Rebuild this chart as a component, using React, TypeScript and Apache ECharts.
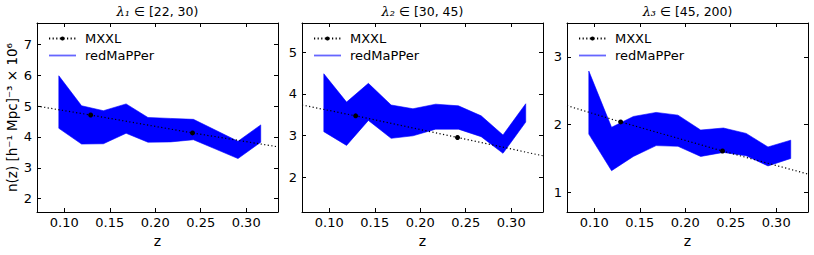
import React, { useEffect, useRef } from 'react';
import * as echarts from 'echarts';

// redshift bin centres of the redMaPPer band
const zBins = [0.094, 0.119, 0.143, 0.168, 0.192, 0.217, 0.242, 0.267, 0.291, 0.316];

// redMaPPer band (lower / upper) per richness bin
const lower1 = [4.28, 3.77, 3.78, 4.12, 3.83, 3.84, 3.91, 3.6, 3.3, 3.83];
const upper1 = [5.98, 5.01, 4.85, 5.07, 4.63, 4.6, 4.57, 4.21, 3.86, 4.39];
const lower2 = [3.09, 2.76, 3.36, 2.93, 2.99, 3.15, 3.15, 2.97, 2.57, 3.32];
const upper2 = [4.48, 3.8, 4.25, 3.73, 3.64, 3.75, 3.71, 3.47, 3.01, 3.76];
const lower3 = [1.86, 1.32, 1.53, 1.69, 1.68, 1.53, 1.59, 1.54, 1.39, 1.5];
const upper3 = [2.79, 1.96, 2.12, 2.18, 2.14, 1.92, 1.95, 1.87, 1.67, 1.77];

// MXXL dotted trend (ends at the axis edges, markers at the middle two points)
const mxxlZ = [0.07, 0.129, 0.241, 0.335];
const mxxl1 = [5.0, 4.71, 4.13, 3.68];
const mxxl2 = [3.73, 3.47, 2.95, 2.51];
const mxxl3 = [2.28, 2.04, 1.61, 1.27];

const panelTitles = ['{l|λ₁} ∈ [22, 30)', '{l|λ₂} ∈ [30, 45)', '{l|λ₃} ∈ [45, 200)'];
const xTicks = [0.1, 0.15, 0.2, 0.25, 0.3];
const xLimits = [0.07, 0.335];
const yTicks1 = [2, 3, 4, 5, 6, 7];
const yTicks2 = [2, 3, 4, 5];
const yTicks3 = [1, 2, 3];
const yLimits1 = [1.57, 7.69];
const yLimits2 = [1.16, 5.7];
const yLimits3 = [0.71, 3.5];

const lowers = [lower1, lower2, lower3];
const uppers = [upper1, upper2, upper3];
const mxxls = [mxxl1, mxxl2, mxxl3];
const yTicksAll = [yTicks1, yTicks2, yTicks3];
const yLimitsAll = [yLimits1, yLimits2, yLimits3];

const FONT = 'DejaVu Sans';
const gridLefts = [37, 302, 567];
const gridTop = 23;
const gridW = 241;
const gridH = 189;

export default function App() {
  const ref = useRef<HTMLDivElement>(null);
  useEffect(() => {
    if (!ref.current) return;
    const chart = echarts.init(ref.current, undefined, { renderer: 'svg' });

    const grid: any[] = [];
    const xAxis: any[] = [];
    const yAxis: any[] = [];
    const series: any[] = [];
    const legend: any[] = [];
    const title: any[] = [];

    const tickLine = { color: '#000', width: 1 };

    for (let i = 0; i < 3; i++) {
      grid.push({ left: gridLefts[i], top: gridTop, width: gridW, height: gridH, containLabel: false });
      title.push({
        text: panelTitles[i],
        left: gridLefts[i] + gridW / 2,
        textAlign: 'center',
        top: 5,
        padding: 0,
        textStyle: {
          fontFamily: FONT,
          fontSize: 12.5,
          fontWeight: 'normal',
          color: '#000',
          rich: { l: { fontFamily: 'DejaVu Serif', fontStyle: 'italic', fontSize: 13, color: '#000' } },
        },
      });
    }
    // bottom x axes
    for (let i = 0; i < 3; i++) {
      xAxis.push({
        type: 'value', gridIndex: i, position: 'bottom', min: xLimits[0], max: xLimits[1],
        axisLine: { show: true, onZero: false, lineStyle: tickLine },
        axisTick: { show: true, inside: true, length: 4, customValues: xTicks, lineStyle: tickLine },
        axisLabel: { customValues: xTicks, formatter: (v: number) => v.toFixed(2), fontSize: 13, color: '#000', fontFamily: FONT, margin: 4 },
        splitLine: { show: false },
        name: 'z', nameLocation: 'middle', nameGap: 21,
        nameTextStyle: { fontSize: 14, color: '#000', fontFamily: FONT },
      });
    }
    // top x axes (ticks only)
    for (let i = 0; i < 3; i++) {
      xAxis.push({
        type: 'value', gridIndex: i, position: 'top', min: xLimits[0], max: xLimits[1],
        axisLine: { show: true, onZero: false, lineStyle: tickLine },
        axisTick: { show: true, inside: true, length: 4, customValues: xTicks, lineStyle: tickLine },
        axisLabel: { show: false },
        splitLine: { show: false },
      });
    }
    // left y axes
    for (let i = 0; i < 3; i++) {
      yAxis.push({
        type: 'value', gridIndex: i, position: 'left', min: yLimitsAll[i][0], max: yLimitsAll[i][1],
        axisLine: { show: true, onZero: false, lineStyle: tickLine },
        axisTick: { show: true, inside: true, length: 4, customValues: yTicksAll[i], lineStyle: tickLine },
        axisLabel: { customValues: yTicksAll[i], formatter: (v: number) => String(v), fontSize: 13, color: '#000', fontFamily: FONT, margin: 5 },
        splitLine: { show: false },
        ...(i === 0
          ? {
              name: 'n(z) [h⁻¹ Mpc]⁻³ × 10⁶',
              nameLocation: 'middle',
              nameGap: 18,
              nameRotate: 90,
              nameTextStyle: { fontSize: 13.5, color: '#000', fontFamily: FONT },
            }
          : {}),
      });
    }
    // right y axes (ticks only)
    for (let i = 0; i < 3; i++) {
      yAxis.push({
        type: 'value', gridIndex: i, position: 'right', min: yLimitsAll[i][0], max: yLimitsAll[i][1],
        axisLine: { show: true, onZero: false, lineStyle: tickLine },
        axisTick: { show: true, inside: true, length: 4, customValues: yTicksAll[i], lineStyle: tickLine },
        axisLabel: { show: false },
        splitLine: { show: false },
      });
    }

    for (let i = 0; i < 3; i++) {
      const lo = lowers[i];
      const hi = uppers[i];
      series.push({
        type: 'custom',
        name: 'redMaPPer',
        xAxisIndex: i,
        yAxisIndex: i,
        data: zBins.map((z, k) => [z, lo[k], hi[k]]),
        encode: { x: 0, y: [1, 2] },
        clip: true,
        z: 2,
        itemStyle: { color: '#0000ff' },
        renderItem: (params: any, api: any) => {
          if (params.dataIndex !== 0) return null;
          const pts: number[][] = [];
          for (let k = 0; k < zBins.length; k++) pts.push(api.coord([zBins[k], lo[k]]));
          for (let k = zBins.length - 1; k >= 0; k--) pts.push(api.coord([zBins[k], hi[k]]));
          return {
            type: 'polygon',
            shape: { points: pts },
            style: { fill: '#0000ff', stroke: '#0000ff', lineWidth: 0.6 },
          };
        },
      });
      const m = mxxls[i];
      series.push({
        type: 'line',
        name: 'MXXL',
        xAxisIndex: i,
        yAxisIndex: i,
        data: mxxlZ.map((z, k) => ({
          value: [z, m[k]],
          symbol: k === 0 || k === mxxlZ.length - 1 ? 'none' : 'circle',
        })),
        symbol: 'circle',
        symbolSize: 5,
        showAllSymbol: true,
        clip: true,
        z: 3,
        itemStyle: { color: '#000' },
        lineStyle: { color: '#000', width: 1.2, type: [1.2, 2.4] },
      });
      legend.push({
        orient: 'vertical',
        left: gridLefts[i] + 11,
        top: 32,
        padding: 0,
        itemWidth: 27,
        itemHeight: 5,
        itemGap: 4,
        selectedMode: false,
        textStyle: { fontFamily: FONT, fontSize: 13, color: '#000', padding: [0, 0, 0, 4] },
        data: [
          { name: 'MXXL' },
          { name: 'redMaPPer', icon: 'path://M0,0H30V2H0Z', itemStyle: { color: 'rgba(0,0,255,0.6)' } },
        ],
      });
    }

    chart.setOption({
      animation: false,
      backgroundColor: '#fff',
      textStyle: { fontFamily: FONT },
      title,
      grid,
      xAxis,
      yAxis,
      legend,
      series,
    });
    return () => chart.dispose();
  }, []);

  return (
    <div
      ref={ref}
      style={{ position: 'fixed', left: 0, top: 0, width: 814, height: 255, background: '#fff' }}
    />
  );
}
